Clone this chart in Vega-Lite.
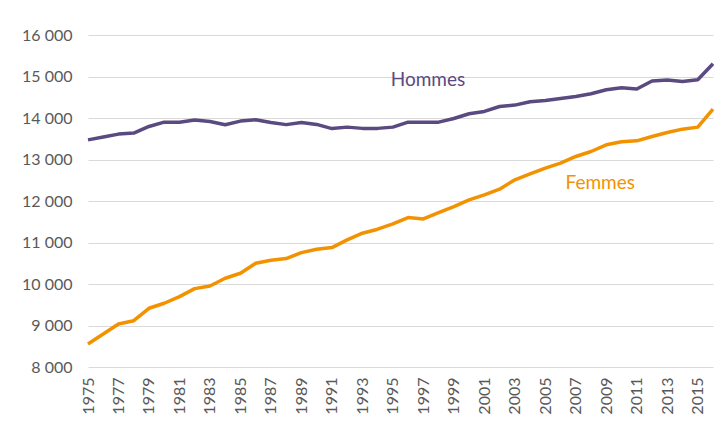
{
  "$schema": "https://vega.github.io/schema/vega-lite/v6.json",
  "autosize": "none",
  "width": 625,
  "height": 332,
  "padding": {"left": 88, "top": 35, "right": 15, "bottom": 57},
  "background": "white",
  "config": {
    "view": {"stroke": null},
    "font": "Lato",
    "axis": {"labelFont": "Lato", "labelColor": "#595959", "labelFontSize": 16}
  },
  "datasets": {
    "series": [
      {"year": 1975, "sexe": "Hommes", "value": 13473},
      {"year": 1976, "sexe": "Hommes", "value": 13540},
      {"year": 1977, "sexe": "Hommes", "value": 13612},
      {"year": 1978, "sexe": "Hommes", "value": 13636},
      {"year": 1979, "sexe": "Hommes", "value": 13796},
      {"year": 1980, "sexe": "Hommes", "value": 13900},
      {"year": 1981, "sexe": "Hommes", "value": 13900},
      {"year": 1982, "sexe": "Hommes", "value": 13950},
      {"year": 1983, "sexe": "Hommes", "value": 13917},
      {"year": 1984, "sexe": "Hommes", "value": 13836},
      {"year": 1985, "sexe": "Hommes", "value": 13925},
      {"year": 1986, "sexe": "Hommes", "value": 13957},
      {"year": 1987, "sexe": "Hommes", "value": 13892},
      {"year": 1988, "sexe": "Hommes", "value": 13840},
      {"year": 1989, "sexe": "Hommes", "value": 13892},
      {"year": 1990, "sexe": "Hommes", "value": 13845},
      {"year": 1991, "sexe": "Hommes", "value": 13745},
      {"year": 1992, "sexe": "Hommes", "value": 13780},
      {"year": 1993, "sexe": "Hommes", "value": 13750},
      {"year": 1994, "sexe": "Hommes", "value": 13750},
      {"year": 1995, "sexe": "Hommes", "value": 13780},
      {"year": 1996, "sexe": "Hommes", "value": 13900},
      {"year": 1997, "sexe": "Hommes", "value": 13900},
      {"year": 1998, "sexe": "Hommes", "value": 13900},
      {"year": 1999, "sexe": "Hommes", "value": 13989},
      {"year": 2000, "sexe": "Hommes", "value": 14102},
      {"year": 2001, "sexe": "Hommes", "value": 14158},
      {"year": 2002, "sexe": "Hommes", "value": 14278},
      {"year": 2003, "sexe": "Hommes", "value": 14311},
      {"year": 2004, "sexe": "Hommes", "value": 14392},
      {"year": 2005, "sexe": "Hommes", "value": 14424},
      {"year": 2006, "sexe": "Hommes", "value": 14472},
      {"year": 2007, "sexe": "Hommes", "value": 14520},
      {"year": 2008, "sexe": "Hommes", "value": 14585},
      {"year": 2009, "sexe": "Hommes", "value": 14681},
      {"year": 2010, "sexe": "Hommes", "value": 14729},
      {"year": 2011, "sexe": "Hommes", "value": 14697},
      {"year": 2012, "sexe": "Hommes", "value": 14890},
      {"year": 2013, "sexe": "Hommes", "value": 14915},
      {"year": 2014, "sexe": "Hommes", "value": 14881},
      {"year": 2015, "sexe": "Hommes", "value": 14922},
      {"year": 2016, "sexe": "Hommes", "value": 15308},
      {"year": 1975, "sexe": "Femmes", "value": 8554},
      {"year": 1976, "sexe": "Femmes", "value": 8795},
      {"year": 1977, "sexe": "Femmes", "value": 9036},
      {"year": 1978, "sexe": "Femmes", "value": 9116},
      {"year": 1979, "sexe": "Femmes", "value": 9415},
      {"year": 1980, "sexe": "Femmes", "value": 9536},
      {"year": 1981, "sexe": "Femmes", "value": 9695},
      {"year": 1982, "sexe": "Femmes", "value": 9888},
      {"year": 1983, "sexe": "Femmes", "value": 9953},
      {"year": 1984, "sexe": "Femmes", "value": 10139},
      {"year": 1985, "sexe": "Femmes", "value": 10259},
      {"year": 1986, "sexe": "Femmes", "value": 10500},
      {"year": 1987, "sexe": "Femmes", "value": 10573},
      {"year": 1988, "sexe": "Femmes", "value": 10613},
      {"year": 1989, "sexe": "Femmes", "value": 10757},
      {"year": 1990, "sexe": "Femmes", "value": 10838},
      {"year": 1991, "sexe": "Femmes", "value": 10878},
      {"year": 1992, "sexe": "Femmes", "value": 11063},
      {"year": 1993, "sexe": "Femmes", "value": 11224},
      {"year": 1994, "sexe": "Femmes", "value": 11320},
      {"year": 1995, "sexe": "Femmes", "value": 11449},
      {"year": 1996, "sexe": "Femmes", "value": 11601},
      {"year": 1997, "sexe": "Femmes", "value": 11569},
      {"year": 1998, "sexe": "Femmes", "value": 11722},
      {"year": 1999, "sexe": "Femmes", "value": 11866},
      {"year": 2000, "sexe": "Femmes", "value": 12027},
      {"year": 2001, "sexe": "Femmes", "value": 12148},
      {"year": 2002, "sexe": "Femmes", "value": 12285},
      {"year": 2003, "sexe": "Femmes", "value": 12510},
      {"year": 2004, "sexe": "Femmes", "value": 12655},
      {"year": 2005, "sexe": "Femmes", "value": 12792},
      {"year": 2006, "sexe": "Femmes", "value": 12912},
      {"year": 2007, "sexe": "Femmes", "value": 13073},
      {"year": 2008, "sexe": "Femmes", "value": 13193},
      {"year": 2009, "sexe": "Femmes", "value": 13354},
      {"year": 2010, "sexe": "Femmes", "value": 13426},
      {"year": 2011, "sexe": "Femmes", "value": 13450},
      {"year": 2012, "sexe": "Femmes", "value": 13554},
      {"year": 2013, "sexe": "Femmes", "value": 13650},
      {"year": 2014, "sexe": "Femmes", "value": 13731},
      {"year": 2015, "sexe": "Femmes", "value": 13780},
      {"year": 2016, "sexe": "Femmes", "value": 14215}
    ],
    "labels": [
      {"year": 1997.3, "value": 14922, "sexe": "Hommes"},
      {"year": 2008.6, "value": 12437, "sexe": "Femmes"}
    ]
  },
  "encoding": {
    "x": {
      "field": "year", "type": "quantitative",
      "scale": {"domain": [1975, 2016], "nice": false, "zero": false},
      "axis": {
        "title": null, "values": [1975,1977,1979,1981,1983,1985,1987,1989,1991,1993,1995,1997,1999,2001,2003,2005,2007,2009,2011,2013,2015],
        "format": "d", "labelAngle": -90, "labelAlign": "right", "labelBaseline": "middle",
        "ticks": false, "domain": false, "grid": false, "labelPadding": 10, "labelFontSize": 16
      }
    },
    "y": {
      "field": "value", "type": "quantitative",
      "scale": {"domain": [8000, 16000], "nice": false, "zero": false},
      "axis": {
        "title": null, "values": [8000,9000,10000,11000,12000,13000,14000,15000,16000],
        "labelExpr": "replace(format(datum.value, ','), ',', ' ')",
        "ticks": false, "domain": false, "grid": true, "gridColor": "#d9d9d9", "gridWidth": 1,
        "labelPadding": 16, "labelFontSize": 16
      }
    },
    "color": {
      "field": "sexe", "type": "nominal",
      "scale": {"domain": ["Hommes", "Femmes"], "range": ["#5a4a80", "#f39200"]},
      "legend": null
    }
  },
  "layer": [
    {
      "data": {"name": "series"},
      "mark": {"type": "line", "strokeWidth": 3.5, "strokeJoin": "round"}
    },
    {
      "data": {"name": "labels"},
      "mark": {"type": "text", "fontSize": 19, "font": "Lato", "align": "center", "baseline": "middle"},
      "encoding": {"text": {"field": "sexe"}}
    }
  ]
}
